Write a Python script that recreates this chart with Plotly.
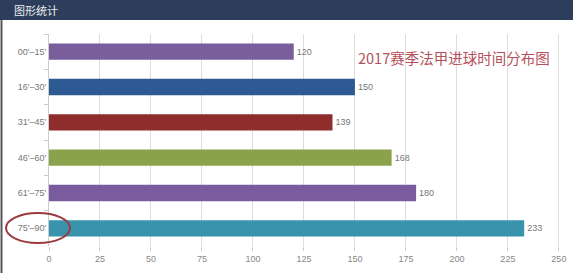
import plotly.graph_objects as go

categories = ["00'–15'", "16'–30'", "31'–45'", "46'–60'", "61'–75'", "75'–90'"]
goals = [120, 150, 139, 168, 180, 233]
bar_colors = ["#7a5d9c", "#2e5a93", "#8f2d2d", "#8aa34b", "#7a5c9e", "#3a93ad"]
x_ticks = [0, 25, 50, 75, 100, 125, 150, 175, 200, 225, 250]

W, H = 573, 273
L, R, T, B = 49, 8, 34, 27
pw, ph = W - L - R, H - T - B

def px(x):
    return (x - L) / pw

def py(y):
    return (H - B - y) / ph

fig = go.Figure(go.Bar(
    y=categories, x=goals, orientation="h",
    marker=dict(color=bar_colors, line=dict(width=0)),
    text=[str(v) for v in goals], textposition="outside",
    textfont=dict(size=9, color="#777777", family="Liberation Sans"),
    cliponaxis=False, hoverinfo="skip",
))

fig.update_layout(
    width=W, height=H, margin=dict(l=L, r=R, t=T, b=B),
    paper_bgcolor="white", plot_bgcolor="white",
    bargap=0.54, showlegend=False,
    font=dict(family="Liberation Sans", color="#777777"),
    xaxis=dict(range=[0, 253], tickvals=x_ticks, showgrid=True, gridcolor="#dddddd",
               gridwidth=1, zeroline=False, showline=False,
               ticks="outside", ticklen=4, tickcolor="#cccccc",
               tickfont=dict(size=9, color="#888888")),
    yaxis=dict(autorange="reversed", showline=True, linecolor="#cccccc", linewidth=1,
               ticks="outside", tickson="boundaries", ticklen=4, tickcolor="#cccccc",
               tickfont=dict(size=9, color="#777777"), showgrid=False),
    shapes=[
        dict(type="rect", xref="paper", yref="paper", x0=px(0), x1=px(W), y0=py(20), y1=py(0),
             fillcolor="#2c3e5c", line=dict(width=0), layer="above"),
        dict(type="line", xref="paper", yref="paper", x0=px(1.5), x1=px(1.5), y0=py(20), y1=py(H),
             line=dict(color="#555555", width=2)),
        dict(type="circle", xref="paper", yref="paper", x0=px(6), x1=px(70), y0=py(243), y1=py(213),
             line=dict(color="#9a3b3e", width=2), layer="above"),
    ],
    annotations=[
        dict(text="图形统计", xref="paper", yref="paper", x=px(12), y=py(10),
             xanchor="left", yanchor="middle", showarrow=False,
             font=dict(size=11, color="#eeeeee", family="Noto Sans CJK SC")),
        dict(text="2017赛季法甲进球时间分布图", xref="paper", yref="paper", x=px(454), y=py(57),
             xanchor="center", yanchor="middle", showarrow=False,
             font=dict(size=14.5, color="#b4505a", family="Noto Sans CJK SC")),
    ],
)

fig.write_html("out.html")
